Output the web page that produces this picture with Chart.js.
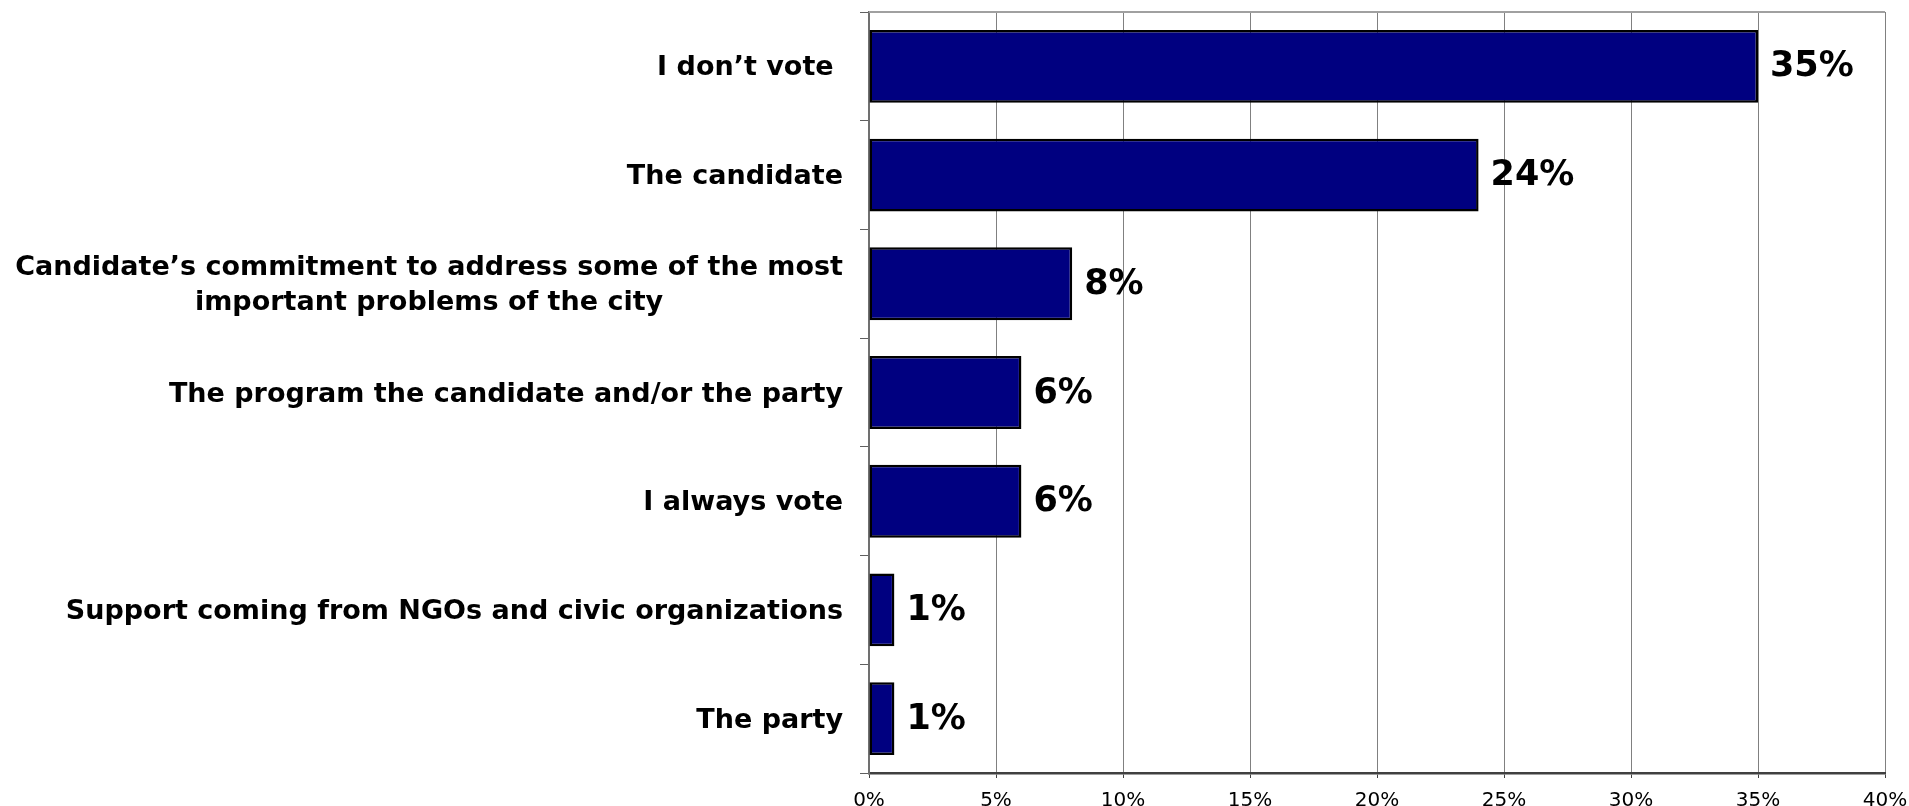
<!DOCTYPE html>
<html>
<head>
<meta charset="utf-8">
<script src="https://cdn.jsdelivr.net/npm/chart.js@4/dist/chart.umd.min.js"></script>
<style>
  html, body { margin: 0; padding: 0; background: #fff; }
  canvas { display: block; }
</style>
</head>
<body>
<canvas id="chart" width="1909" height="806" style="width:1909px;height:806px"></canvas>
<script>
// ── Data ─────────────────────────────────────
const categories = [
  'I don\u2019t vote ',
  'The candidate',
  ['Candidate\u2019s commitment to address some of the most', 'important problems of the city'],
  'The program the candidate and/or the party',
  'I always vote',
  'Support coming from NGOs and civic organizations',
  'The party',
];
const values = [35, 24, 8, 6, 6, 1, 1];
const valueLabels = ['35%', '24%', '8%', '6%', '6%', '1%', '1%'];
const xTickValues = [0, 5, 10, 15, 20, 25, 30, 35, 40];

const FONT = "Verdana, 'DejaVu Sans', sans-serif";

// category labels: right aligned block, wrapped lines centred on each other
const categoryLabels = {
  id: 'categoryLabels',
  afterDraw(chart) {
    const { ctx } = chart;
    const y = chart.scales.y;
    const right = 843;
    ctx.save();
    ctx.font = `bold 27px ${FONT}`;
    ctx.fillStyle = '#000';
    ctx.textBaseline = 'middle';
    categories.forEach((lab, i) => {
      const cy = y.getPixelForValue(i) + 2;
      if (Array.isArray(lab)) {
        const w = Math.max(...lab.map(l => ctx.measureText(l).width));
        const lh = 35;
        ctx.textAlign = 'center';
        lab.forEach((l, j) => {
          ctx.fillText(l, right - w / 2, cy + (j - (lab.length - 1) / 2) * lh);
        });
      } else {
        ctx.textAlign = 'right';
        ctx.fillText(lab, right, cy);
      }
    });
    ctx.restore();
  }
};

// value labels next to each bar + top border of plot
const valueTags = {
  id: 'valueTags',
  beforeDatasetsDraw(chart) {
    const { ctx, chartArea } = chart;
    ctx.save();
    ctx.strokeStyle = '#a0a0a0';
    ctx.lineWidth = 2;
    ctx.beginPath();
    ctx.moveTo(chartArea.left, chartArea.top);
    ctx.lineTo(chartArea.right, chartArea.top);
    ctx.stroke();
    ctx.restore();
  },
  afterDatasetsDraw(chart) {
    const { ctx } = chart;
    const meta = chart.getDatasetMeta(0);
    ctx.save();
    ctx.font = `bold 35px ${FONT}`;
    ctx.fillStyle = '#000';
    ctx.textAlign = 'left';
    ctx.textBaseline = 'middle';
    meta.data.forEach((bar, i) => {
      ctx.fillText(valueLabels[i], bar.x + 12, bar.y + 1);
    });
    ctx.restore();
  }
};

new Chart(document.getElementById('chart'), {
  type: 'bar',
  data: {
    labels: categories,
    datasets: [{
      data: values,
      backgroundColor: '#000080',
      borderColor: '#000000',
      borderWidth: 2.5,
      borderSkipped: false,
      categoryPercentage: 1,
      barPercentage: 0.67,
    }]
  },
  options: {
    indexAxis: 'y',
    responsive: false,
    animation: false,
    devicePixelRatio: 1,
    layout: { padding: { top: 12, right: 24, left: 0, bottom: 0 } },
    plugins: {
      legend: { display: false },
      tooltip: { enabled: false },
    },
    scales: {
      x: {
        min: 0,
        max: 40,
        afterBuildTicks: s => { s.ticks = xTickValues.map(v => ({ value: v })); },
        afterFit: s => { s.height = 33; s.paddingLeft = 0; s.paddingRight = 0; },
        ticks: {
          callback: v => v + '%',
          color: '#000',
          font: { family: FONT, size: 20 },
          padding: 11,
          maxRotation: 0,
        },
        grid: {
          color: '#808080',
          lineWidth: 1,
          drawTicks: true,
          tickLength: 5,
          tickColor: '#404040',
        },
        border: { color: '#404040', width: 2.5 },
      },
      y: {
        afterFit: s => { s.width = 869; },
        ticks: { display: false },
        grid: {
          offset: true,
          drawOnChartArea: false,
          drawTicks: true,
          tickLength: 9,
          tickColor: '#606060',
        },
        border: { color: '#707070', width: 2 },
      }
    }
  },
  plugins: [categoryLabels, valueTags]
});
</script>
</body>
</html>
